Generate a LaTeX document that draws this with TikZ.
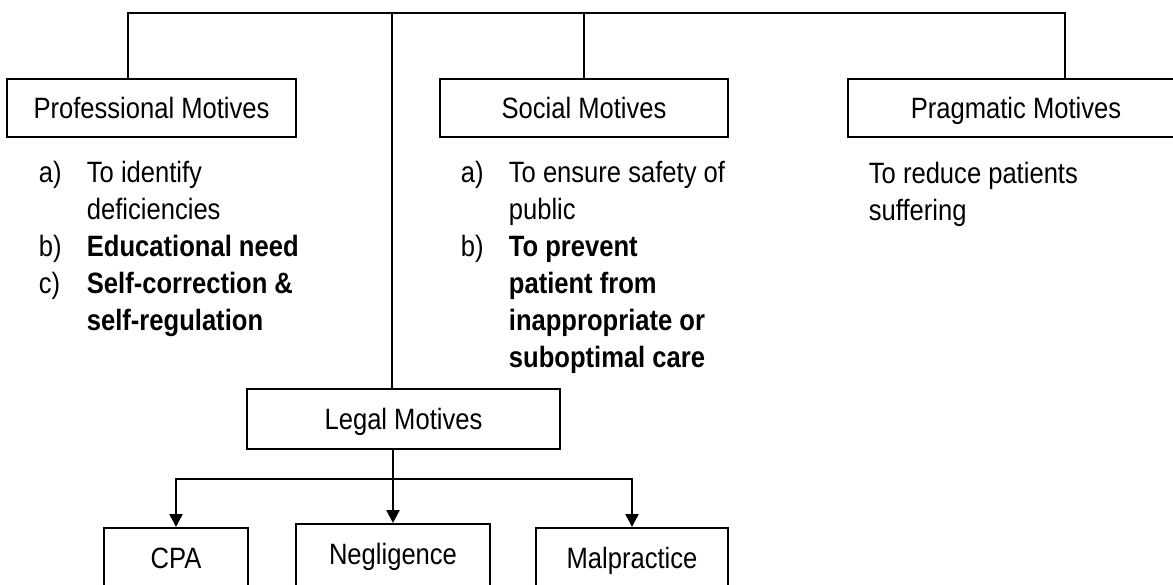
\documentclass[tikz,border=0pt]{standalone}
\usepackage{fontspec}
\setmainfont[FakeStretch=0.87]{Liberation Sans}
\usetikzlibrary{arrows.meta,positioning}

\begin{document}
\begin{tikzpicture}[x=0.5pt, y=-0.5pt, line width=0.9pt,
  every node/.style={font=\fontsize{14.7pt}{18.5pt}\selectfont},
  motive/.style={draw, line width=1pt, minimum height=29pt, inner sep=0pt, text height=12pt, text depth=2pt},
  leafbox/.style={draw, line width=1pt, anchor=north, inner xsep=0pt, inner ysep=0pt, text height=20pt, text depth=20pt},
  itemlist/.style={anchor=base west, inner sep=0pt},
  branch/.style={line width=1.2pt, -{Triangle[length=6.5pt,width=6.5pt]}}]
  \useasboundingbox (0,0) rectangle (1173,584);
  \clip (0,0) rectangle (1173,584);

  % MOTIVE BOXES
  \node[motive, minimum width=144.5pt] (prof)  at (151.5,108) {Professional Motives};
  \node[motive, minimum width=144pt]   (soc)   at (584,108)   {Social Motives};
  \node[motive, minimum width=168pt]   (prag)  at (1016,108)  {Pragmatic Motives};
  \node[motive, minimum width=156.5pt, minimum height=30pt] (legal) at (403.5,419) {Legal Motives};

  % TOP BAR
  \coordinate (tprof)  at (128,13);
  \coordinate (ttrunk) at (392,13);
  \coordinate (tprag)  at (1065,13);
  \draw (tprof |- prof.north) -- (tprof) -- (tprag) -- (tprag |- prag.north);
  \draw (soc.north |- tprof) -- (soc.north);
  \draw (ttrunk) -- (ttrunk |- legal.north);

  % ITEM LISTS
  \node[itemlist] (proflist) at (38,182) {\begin{tabular}[t]{@{}p{24pt}@{}l@{}}
    a) & To identify\\
       & deficiencies\\
    b) & \textbf{Educational need}\\
    c) & \textbf{Self-correction \&}\\
       & \textbf{self-regulation}
  \end{tabular}};
  \node[itemlist] (soclist) at (460,182) {\begin{tabular}[t]{@{}p{24pt}@{}l@{}}
    a) & To ensure safety of\\
       & public\\
    b) & \textbf{To prevent}\\
       & \textbf{patient from}\\
       & \textbf{inappropriate or}\\
       & \textbf{suboptimal care}
  \end{tabular}};
  \node[itemlist] (praglist) at (868,183) {\begin{tabular}[t]{@{}l@{}}
    To reduce patients\\
    suffering
  \end{tabular}};

  % LEGAL BRANCHES
  \node[leafbox, minimum width=72pt] (cpa) at (176,527) {CPA};
  \node[leafbox, minimum width=97pt] (neg) at (393,523) {Negligence};
  \node[leafbox, minimum width=96pt] (mal) at (632,527) {Malpractice};
  \coordinate (fork) at (393,479);
  \draw[branch] (neg.north |- legal.south) -- (neg.north);
  \draw[branch] (fork) -| (cpa.north);
  \draw[branch] (fork) -| (mal.north);
\end{tikzpicture}
\end{document}
